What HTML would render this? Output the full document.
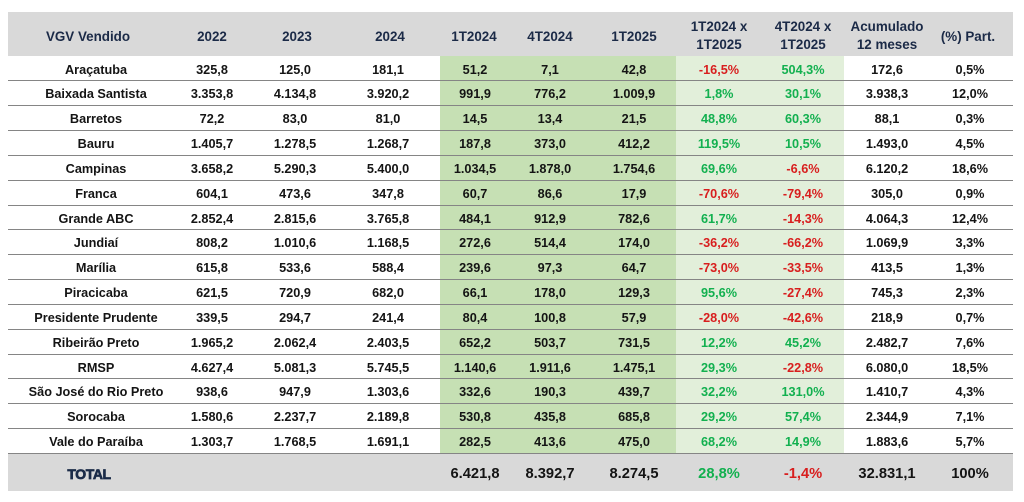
<!DOCTYPE html>
<html>
<head>
<meta charset="utf-8">
<style>
html,body{margin:0;padding:0;background:#fff;}
body{width:1024px;height:502px;position:relative;overflow:hidden;font-family:"Liberation Sans",Arial,sans-serif;font-weight:bold;}
.bg{position:absolute;}
.hd{position:absolute;font-size:13.4px;color:#1b2a47;text-align:center;line-height:18px;white-space:nowrap;}
.row{position:absolute;left:8px;width:1005px;height:24.84px;}
.row div{position:absolute;top:2px;height:24.84px;line-height:24.84px;font-size:12.7px;color:#141414;text-align:center;white-space:nowrap;}
.sep{position:absolute;left:8px;width:1005px;height:1px;background:#858585;}
.c0{left:8px;width:160px;}
.c1{left:164px;width:80px;}
.c2{left:247px;width:80px;}
.c3{left:340px;width:80px;}
.c4{left:427px;width:80px;}
.c5{left:502px;width:80px;}
.c6{left:586px;width:80px;}
.c7{left:671px;width:80px;}
.c8{left:755px;width:80px;}
.c9{left:839px;width:80px;}
.c10{left:922px;width:80px;}
.r{color:#d81e1e !important;}
.g{color:#12b04f !important;}
.tot{position:absolute;left:8px;top:452.94px;width:1005px;height:38px;background:#d9d9d9;}
.tot div{position:absolute;top:2.5px;height:38px;line-height:38px;font-size:14.7px;color:#141414;text-align:center;white-space:nowrap;}
</style>
</head>
<body>
<!-- header band -->
<div class="bg" style="left:8px;top:12px;width:1005px;height:43.5px;background:#d9d9d9;"></div>
<!-- green column bands -->
<div class="bg" style="left:440px;top:55.5px;width:236px;height:397.44px;background:#c6e0b4;"></div>
<div class="bg" style="left:676px;top:55.5px;width:168px;height:397.44px;background:#e2efda;"></div>

<!-- header texts -->
<div class="hd" style="left:8px;width:160px;top:27.8px;">VGV Vendido</div>
<div class="hd" style="left:172px;width:80px;top:27.8px;">2022</div>
<div class="hd" style="left:257px;width:80px;top:27.8px;">2023</div>
<div class="hd" style="left:350px;width:80px;top:27.8px;">2024</div>
<div class="hd" style="left:434px;width:80px;top:27.8px;">1T2024</div>
<div class="hd" style="left:510px;width:80px;top:27.8px;">4T2024</div>
<div class="hd" style="left:594px;width:80px;top:27.8px;">1T2025</div>
<div class="hd" style="left:669px;width:100px;top:18.2px;">1T2024 x<br>1T2025</div>
<div class="hd" style="left:753px;width:100px;top:18.2px;">4T2024 x<br>1T2025</div>
<div class="hd" style="left:837px;width:100px;top:18.2px;">Acumulado<br>12 meses</div>
<div class="hd" style="left:928px;width:80px;top:27.8px;">(%) Part.</div>

<!-- rows -->
<div class="row" style="top:55.5px;"><div class="c0">Araçatuba</div><div class="c1">325,8</div><div class="c2">125,0</div><div class="c3">181,1</div><div class="c4">51,2</div><div class="c5">7,1</div><div class="c6">42,8</div><div class="c7 r">-16,5%</div><div class="c8 g">504,3%</div><div class="c9">172,6</div><div class="c10">0,5%</div></div>
<div class="row" style="top:80.34px;"><div class="c0">Baixada Santista</div><div class="c1">3.353,8</div><div class="c2">4.134,8</div><div class="c3">3.920,2</div><div class="c4">991,9</div><div class="c5">776,2</div><div class="c6">1.009,9</div><div class="c7 g">1,8%</div><div class="c8 g">30,1%</div><div class="c9">3.938,3</div><div class="c10">12,0%</div></div>
<div class="row" style="top:105.18px;"><div class="c0">Barretos</div><div class="c1">72,2</div><div class="c2">83,0</div><div class="c3">81,0</div><div class="c4">14,5</div><div class="c5">13,4</div><div class="c6">21,5</div><div class="c7 g">48,8%</div><div class="c8 g">60,3%</div><div class="c9">88,1</div><div class="c10">0,3%</div></div>
<div class="row" style="top:130.02px;"><div class="c0">Bauru</div><div class="c1">1.405,7</div><div class="c2">1.278,5</div><div class="c3">1.268,7</div><div class="c4">187,8</div><div class="c5">373,0</div><div class="c6">412,2</div><div class="c7 g">119,5%</div><div class="c8 g">10,5%</div><div class="c9">1.493,0</div><div class="c10">4,5%</div></div>
<div class="row" style="top:154.86px;"><div class="c0">Campinas</div><div class="c1">3.658,2</div><div class="c2">5.290,3</div><div class="c3">5.400,0</div><div class="c4">1.034,5</div><div class="c5">1.878,0</div><div class="c6">1.754,6</div><div class="c7 g">69,6%</div><div class="c8 r">-6,6%</div><div class="c9">6.120,2</div><div class="c10">18,6%</div></div>
<div class="row" style="top:179.7px;"><div class="c0">Franca</div><div class="c1">604,1</div><div class="c2">473,6</div><div class="c3">347,8</div><div class="c4">60,7</div><div class="c5">86,6</div><div class="c6">17,9</div><div class="c7 r">-70,6%</div><div class="c8 r">-79,4%</div><div class="c9">305,0</div><div class="c10">0,9%</div></div>
<div class="row" style="top:204.54px;"><div class="c0">Grande ABC</div><div class="c1">2.852,4</div><div class="c2">2.815,6</div><div class="c3">3.765,8</div><div class="c4">484,1</div><div class="c5">912,9</div><div class="c6">782,6</div><div class="c7 g">61,7%</div><div class="c8 r">-14,3%</div><div class="c9">4.064,3</div><div class="c10">12,4%</div></div>
<div class="row" style="top:229.38px;"><div class="c0">Jundiaí</div><div class="c1">808,2</div><div class="c2">1.010,6</div><div class="c3">1.168,5</div><div class="c4">272,6</div><div class="c5">514,4</div><div class="c6">174,0</div><div class="c7 r">-36,2%</div><div class="c8 r">-66,2%</div><div class="c9">1.069,9</div><div class="c10">3,3%</div></div>
<div class="row" style="top:254.22px;"><div class="c0">Marília</div><div class="c1">615,8</div><div class="c2">533,6</div><div class="c3">588,4</div><div class="c4">239,6</div><div class="c5">97,3</div><div class="c6">64,7</div><div class="c7 r">-73,0%</div><div class="c8 r">-33,5%</div><div class="c9">413,5</div><div class="c10">1,3%</div></div>
<div class="row" style="top:279.06px;"><div class="c0">Piracicaba</div><div class="c1">621,5</div><div class="c2">720,9</div><div class="c3">682,0</div><div class="c4">66,1</div><div class="c5">178,0</div><div class="c6">129,3</div><div class="c7 g">95,6%</div><div class="c8 r">-27,4%</div><div class="c9">745,3</div><div class="c10">2,3%</div></div>
<div class="row" style="top:303.9px;"><div class="c0">Presidente Prudente</div><div class="c1">339,5</div><div class="c2">294,7</div><div class="c3">241,4</div><div class="c4">80,4</div><div class="c5">100,8</div><div class="c6">57,9</div><div class="c7 r">-28,0%</div><div class="c8 r">-42,6%</div><div class="c9">218,9</div><div class="c10">0,7%</div></div>
<div class="row" style="top:328.74px;"><div class="c0">Ribeirão Preto</div><div class="c1">1.965,2</div><div class="c2">2.062,4</div><div class="c3">2.403,5</div><div class="c4">652,2</div><div class="c5">503,7</div><div class="c6">731,5</div><div class="c7 g">12,2%</div><div class="c8 g">45,2%</div><div class="c9">2.482,7</div><div class="c10">7,6%</div></div>
<div class="row" style="top:353.58px;"><div class="c0">RMSP</div><div class="c1">4.627,4</div><div class="c2">5.081,3</div><div class="c3">5.745,5</div><div class="c4">1.140,6</div><div class="c5">1.911,6</div><div class="c6">1.475,1</div><div class="c7 g">29,3%</div><div class="c8 r">-22,8%</div><div class="c9">6.080,0</div><div class="c10">18,5%</div></div>
<div class="row" style="top:378.42px;"><div class="c0">São José do Rio Preto</div><div class="c1">938,6</div><div class="c2">947,9</div><div class="c3">1.303,6</div><div class="c4">332,6</div><div class="c5">190,3</div><div class="c6">439,7</div><div class="c7 g">32,2%</div><div class="c8 g">131,0%</div><div class="c9">1.410,7</div><div class="c10">4,3%</div></div>
<div class="row" style="top:403.26px;"><div class="c0">Sorocaba</div><div class="c1">1.580,6</div><div class="c2">2.237,7</div><div class="c3">2.189,8</div><div class="c4">530,8</div><div class="c5">435,8</div><div class="c6">685,8</div><div class="c7 g">29,2%</div><div class="c8 g">57,4%</div><div class="c9">2.344,9</div><div class="c10">7,1%</div></div>
<div class="row" style="top:428.1px;"><div class="c0">Vale do Paraíba</div><div class="c1">1.303,7</div><div class="c2">1.768,5</div><div class="c3">1.691,1</div><div class="c4">282,5</div><div class="c5">413,6</div><div class="c6">475,0</div><div class="c7 g">68,2%</div><div class="c8 g">14,9%</div><div class="c9">1.883,6</div><div class="c10">5,7%</div></div>

<!-- total -->
<div class="tot">
<div style="left:31px;width:100px;font-size:14px;color:#1a2b48;letter-spacing:-0.4px;-webkit-text-stroke:0.7px #1a2b48;top:2.3px;">TOTAL</div>
<div class="c4">6.421,8</div><div class="c5">8.392,7</div><div class="c6">8.274,5</div><div class="c7 g">28,8%</div><div class="c8 r">-1,4%</div><div class="c9">32.831,1</div><div class="c10">100%</div>
</div>

<!-- separators -->
<div class="sep" style="top:80.34px;"></div>
<div class="sep" style="top:105.18px;"></div>
<div class="sep" style="top:130.02px;"></div>
<div class="sep" style="top:154.86px;"></div>
<div class="sep" style="top:179.7px;"></div>
<div class="sep" style="top:204.54px;"></div>
<div class="sep" style="top:229.38px;"></div>
<div class="sep" style="top:254.22px;"></div>
<div class="sep" style="top:279.06px;"></div>
<div class="sep" style="top:303.9px;"></div>
<div class="sep" style="top:328.74px;"></div>
<div class="sep" style="top:353.58px;"></div>
<div class="sep" style="top:378.42px;"></div>
<div class="sep" style="top:403.26px;"></div>
<div class="sep" style="top:428.1px;"></div>
<div class="sep" style="top:452.5px;"></div>
</body>
</html>
